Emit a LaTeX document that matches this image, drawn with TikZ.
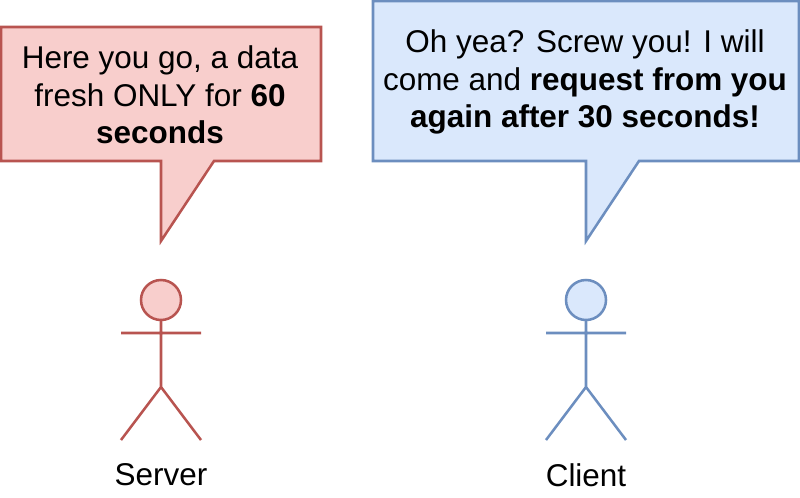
\documentclass[tikz,border=0pt]{standalone}
\usepackage{fontspec}
\setmainfont{Liberation Sans}
\definecolor{redline}{HTML}{B85450}
\definecolor{redfill}{HTML}{F8CECC}
\definecolor{blueline}{HTML}{6C8EBF}
\definecolor{bluefill}{HTML}{DAE8FC}
\tikzset{
 px/.style={x=0.75pt,y=-0.75pt},
 lbl/.style={font=\fontsize{23.6}{28}\selectfont,align=center,text=black,inner sep=0pt},
 caption/.style={font=\fontsize{23.6}{28}\selectfont,text=black,inner sep=0pt},
 ln/.style={line width=1.9pt,line join=miter}
}
\begin{document}
\begin{tikzpicture}[px]
\useasboundingbox (0,0) rectangle (800,497);
% red callout
\draw[ln,draw=redline,fill=redfill] (1,27) -- (321,27) -- (321,161) -- (214,161) -- (161,241) -- (161,161) -- (1,161) -- cycle;
\node[lbl] (t1) at (160,95) {Here you go, a data\\fresh ONLY for \textbf{60}\\\textbf{seconds}};
% blue callout
\draw[ln,draw=blueline,fill=bluefill] (373,1) -- (799,1) -- (799,161) -- (639,161) -- (586,241) -- (586,161) -- (373,161) -- cycle;
\node[lbl] (t2) at (585,82) {Oh yea? Screw you! I will\\come and \textbf{request from you}\\\textbf{again after 30 seconds!}};
% server
\draw[ln,draw=redline,fill=redfill] (161,300) circle[radius=20];
\draw[ln,draw=redline] (161,320) -- (161,387) (121,333) -- (201,333) (121,440) -- (161,387) -- (201,440);
\node[caption] (s) at (161,475) {Server};
% client
\draw[ln,draw=blueline,fill=bluefill] (586,300) circle[radius=20];
\draw[ln,draw=blueline] (586,320) -- (586,387) (546,333) -- (626,333) (546,440) -- (586,387) -- (626,440);
\node[caption] (c) at (586,475) {Client};
\end{tikzpicture}
\end{document}
